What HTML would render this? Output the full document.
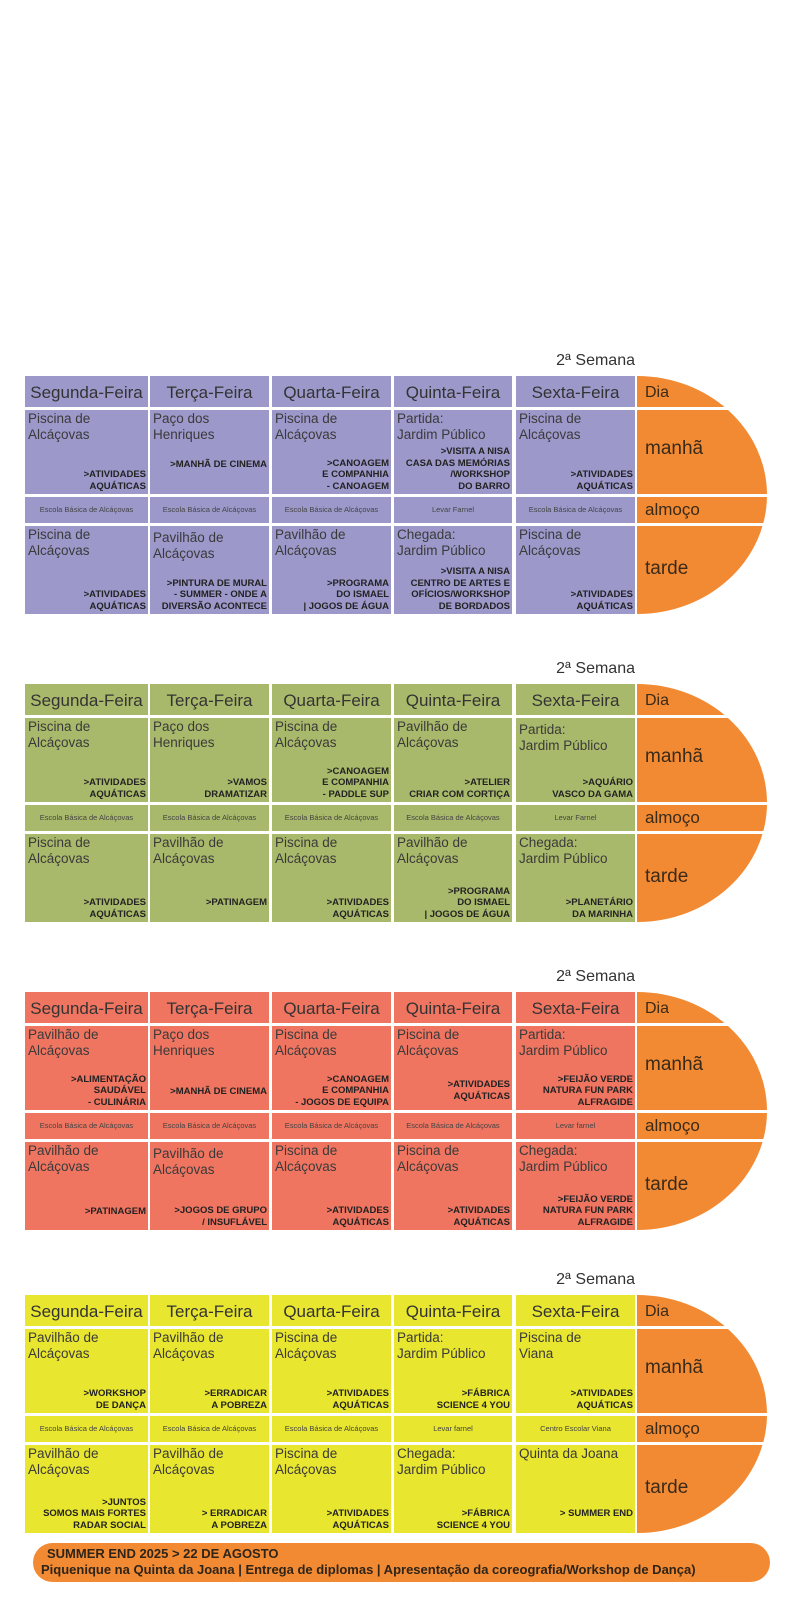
<!DOCTYPE html>
<html><head><meta charset="utf-8">
<style>
*{margin:0;padding:0;box-sizing:border-box}
body{width:795px;height:1600px;background:#fff;position:relative;overflow:hidden;font-family:"Liberation Sans",sans-serif;color:#333}
.b{position:absolute;left:0;width:795px;height:238px}
.c{position:absolute;overflow:hidden}
.h{top:0;height:31px;font-size:17px;text-align:center;line-height:33px;color:#333}
.m{top:34px;height:84px}
.l{top:121px;height:26px;font-size:7.5px;text-align:center;line-height:26px;color:#444}
.t{top:150px;height:88px}
.p{position:absolute;left:3px;top:1px;font-size:13.5px;line-height:16px;color:#3a3a3a}
.a{position:absolute;right:2px;bottom:2px;font-size:9.5px;font-weight:bold;line-height:11.5px;text-align:right;color:#222;letter-spacing:0;white-space:nowrap}
.c0{left:25px;width:123px}.c1{left:150px;width:119px}.c2{left:272px;width:119px}.c3{left:394px;width:118px}.c4{left:516px;width:119px}
.sem{position:absolute;right:160px;top:-24px;font-size:16px;color:#333}
svg.o{position:absolute;left:637px;top:0}
.ol{position:absolute;left:645px;color:#3a2a1a}
.pu .c{background:#9c98ca}.gr .c{background:#a9b96b}.rd .c{background:#ef7561}.ye .c{background:#e8e62e}
.foot{position:absolute;left:33px;top:1543px;width:737px;height:39px;background:#f28a33;border-radius:20px;font-weight:bold;color:#2e2418;font-size:13px;line-height:16px;padding:3px 0 0 12px}
</style></head><body>

<div class="b pu" style="top:376px">
<div class="sem">2ª Semana</div>
<div class="c h c0">Segunda-Feira</div><div class="c h c1">Terça-Feira</div><div class="c h c2">Quarta-Feira</div><div class="c h c3">Quinta-Feira</div><div class="c h c4">Sexta-Feira</div>
<div class="c m c0"><div class="p">Piscina de<br>Alcáçovas</div><div class="a">&gt;ATIVIDADES<br>AQUÁTICAS</div></div>
<div class="c m c1"><div class="p">Paço dos<br>Henriques</div><div class="a" style="bottom:24px">&gt;MANHÃ DE CINEMA</div></div>
<div class="c m c2"><div class="p">Piscina de<br>Alcáçovas</div><div class="a">&gt;CANOAGEM<br>E COMPANHIA<br>- CANOAGEM</div></div>
<div class="c m c3"><div class="p">Partida:<br>Jardim Público</div><div class="a">&gt;VISITA A NISA<br>CASA DAS MEMÓRIAS<br>/WORKSHOP<br>DO BARRO</div></div>
<div class="c m c4"><div class="p">Piscina de<br>Alcáçovas</div><div class="a">&gt;ATIVIDADES<br>AQUÁTICAS</div></div>
<div class="c l c0">Escola Básica de Alcáçovas</div><div class="c l c1">Escola Básica de Alcáçovas</div><div class="c l c2">Escola Básica de Alcáçovas</div><div class="c l c3">Levar Farnel</div><div class="c l c4">Escola Básica de Alcáçovas</div>
<div class="c t c0"><div class="p">Piscina de<br>Alcáçovas</div><div class="a">&gt;ATIVIDADES<br>AQUÁTICAS</div></div>
<div class="c t c1"><div class="p" style="top:4px">Pavilhão de<br>Alcáçovas</div><div class="a">&gt;PINTURA DE MURAL<br>- SUMMER - ONDE A<br>DIVERSÃO ACONTECE</div></div>
<div class="c t c2"><div class="p">Pavilhão de<br>Alcáçovas</div><div class="a">&gt;PROGRAMA<br>DO ISMAEL<br>| JOGOS DE ÁGUA</div></div>
<div class="c t c3"><div class="p">Chegada:<br>Jardim Público</div><div class="a">&gt;VISITA A NISA<br>CENTRO DE ARTES E<br>OFÍCIOS/WORKSHOP<br>DE BORDADOS</div></div>
<div class="c t c4"><div class="p">Piscina de<br>Alcáçovas</div><div class="a">&gt;ATIVIDADES<br>AQUÁTICAS</div></div>
<svg class="o" width="140" height="240"><path d="M0,0 A130,119 0 0 1 0,238 Z" fill="#f28a33"/><rect x="0" y="31" width="140" height="3" fill="#fff"/><rect x="0" y="118" width="140" height="3" fill="#fff"/><rect x="0" y="147" width="140" height="3" fill="#fff"/></svg>
<div class="ol" style="top:8px;font-size:16px">Dia</div><div class="ol" style="top:62px;font-size:19px">manhã</div><div class="ol" style="top:124px;font-size:17px">almoço</div><div class="ol" style="top:182px;font-size:19px">tarde</div>
</div>

<div class="b gr" style="top:684px">
<div class="sem">2ª Semana</div>
<div class="c h c0">Segunda-Feira</div><div class="c h c1">Terça-Feira</div><div class="c h c2">Quarta-Feira</div><div class="c h c3">Quinta-Feira</div><div class="c h c4">Sexta-Feira</div>
<div class="c m c0"><div class="p">Piscina de<br>Alcáçovas</div><div class="a">&gt;ATIVIDADES<br>AQUÁTICAS</div></div>
<div class="c m c1"><div class="p">Paço dos<br>Henriques</div><div class="a">&gt;VAMOS<br>DRAMATIZAR</div></div>
<div class="c m c2"><div class="p">Piscina de<br>Alcáçovas</div><div class="a">&gt;CANOAGEM<br>E COMPANHIA<br>- PADDLE SUP</div></div>
<div class="c m c3"><div class="p">Pavilhão de<br>Alcáçovas</div><div class="a">&gt;ATELIER<br>CRIAR COM CORTIÇA</div></div>
<div class="c m c4"><div class="p" style="top:4px">Partida:<br>Jardim Público</div><div class="a">&gt;AQUÁRIO<br>VASCO DA GAMA</div></div>
<div class="c l c0">Escola Básica de Alcáçovas</div><div class="c l c1">Escola Básica de Alcáçovas</div><div class="c l c2">Escola Básica de Alcáçovas</div><div class="c l c3">Escola Básica de Alcáçovas</div><div class="c l c4">Levar Farnel</div>
<div class="c t c0"><div class="p">Piscina de<br>Alcáçovas</div><div class="a">&gt;ATIVIDADES<br>AQUÁTICAS</div></div>
<div class="c t c1"><div class="p">Pavilhão de<br>Alcáçovas</div><div class="a" style="bottom:14px">&gt;PATINAGEM</div></div>
<div class="c t c2"><div class="p">Piscina de<br>Alcáçovas</div><div class="a">&gt;ATIVIDADES<br>AQUÁTICAS</div></div>
<div class="c t c3"><div class="p">Pavilhão de<br>Alcáçovas</div><div class="a">&gt;PROGRAMA<br>DO ISMAEL<br>| JOGOS DE ÁGUA</div></div>
<div class="c t c4"><div class="p">Chegada:<br>Jardim Público</div><div class="a">&gt;PLANETÁRIO<br>DA MARINHA</div></div>
<svg class="o" width="140" height="240"><path d="M0,0 A130,119 0 0 1 0,238 Z" fill="#f28a33"/><rect x="0" y="31" width="140" height="3" fill="#fff"/><rect x="0" y="118" width="140" height="3" fill="#fff"/><rect x="0" y="147" width="140" height="3" fill="#fff"/></svg>
<div class="ol" style="top:8px;font-size:16px">Dia</div><div class="ol" style="top:62px;font-size:19px">manhã</div><div class="ol" style="top:124px;font-size:17px">almoço</div><div class="ol" style="top:182px;font-size:19px">tarde</div>
</div>

<div class="b rd" style="top:992px">
<div class="sem">2ª Semana</div>
<div class="c h c0">Segunda-Feira</div><div class="c h c1">Terça-Feira</div><div class="c h c2">Quarta-Feira</div><div class="c h c3">Quinta-Feira</div><div class="c h c4">Sexta-Feira</div>
<div class="c m c0"><div class="p">Pavilhão de<br>Alcáçovas</div><div class="a">&gt;ALIMENTAÇÃO<br>SAUDÁVEL<br>- CULINÁRIA</div></div>
<div class="c m c1"><div class="p">Paço dos<br>Henriques</div><div class="a" style="bottom:13px">&gt;MANHÃ DE CINEMA</div></div>
<div class="c m c2"><div class="p">Piscina de<br>Alcáçovas</div><div class="a">&gt;CANOAGEM<br>E COMPANHIA<br>- JOGOS DE EQUIPA</div></div>
<div class="c m c3"><div class="p">Piscina de<br>Alcáçovas</div><div class="a" style="bottom:8px">&gt;ATIVIDADES<br>AQUÁTICAS</div></div>
<div class="c m c4"><div class="p">Partida:<br>Jardim Público</div><div class="a">&gt;FEIJÃO VERDE<br>NATURA FUN PARK<br>ALFRAGIDE</div></div>
<div class="c l c0">Escola Básica de Alcáçovas</div><div class="c l c1">Escola Básica de Alcáçovas</div><div class="c l c2">Escola Básica de Alcáçovas</div><div class="c l c3">Escola Básica de Alcáçovas</div><div class="c l c4">Levar farnel</div>
<div class="c t c0"><div class="p">Pavilhão de<br>Alcáçovas</div><div class="a" style="bottom:13px">&gt;PATINAGEM</div></div>
<div class="c t c1"><div class="p" style="top:4px">Pavilhão de<br>Alcáçovas</div><div class="a">&gt;JOGOS DE GRUPO<br>/ INSUFLÁVEL</div></div>
<div class="c t c2"><div class="p">Piscina de<br>Alcáçovas</div><div class="a">&gt;ATIVIDADES<br>AQUÁTICAS</div></div>
<div class="c t c3"><div class="p">Piscina de<br>Alcáçovas</div><div class="a">&gt;ATIVIDADES<br>AQUÁTICAS</div></div>
<div class="c t c4"><div class="p">Chegada:<br>Jardim Público</div><div class="a">&gt;FEIJÃO VERDE<br>NATURA FUN PARK<br>ALFRAGIDE</div></div>
<svg class="o" width="140" height="240"><path d="M0,0 A130,119 0 0 1 0,238 Z" fill="#f28a33"/><rect x="0" y="31" width="140" height="3" fill="#fff"/><rect x="0" y="118" width="140" height="3" fill="#fff"/><rect x="0" y="147" width="140" height="3" fill="#fff"/></svg>
<div class="ol" style="top:8px;font-size:16px">Dia</div><div class="ol" style="top:62px;font-size:19px">manhã</div><div class="ol" style="top:124px;font-size:17px">almoço</div><div class="ol" style="top:182px;font-size:19px">tarde</div>
</div>

<div class="b ye" style="top:1295px">
<div class="sem">2ª Semana</div>
<div class="c h c0">Segunda-Feira</div><div class="c h c1">Terça-Feira</div><div class="c h c2">Quarta-Feira</div><div class="c h c3">Quinta-Feira</div><div class="c h c4">Sexta-Feira</div>
<div class="c m c0"><div class="p">Pavilhão de<br>Alcáçovas</div><div class="a">&gt;WORKSHOP<br>DE DANÇA</div></div>
<div class="c m c1"><div class="p">Pavilhão de<br>Alcáçovas</div><div class="a">&gt;ERRADICAR<br>A POBREZA</div></div>
<div class="c m c2"><div class="p">Piscina de<br>Alcáçovas</div><div class="a">&gt;ATIVIDADES<br>AQUÁTICAS</div></div>
<div class="c m c3"><div class="p">Partida:<br>Jardim Público</div><div class="a">&gt;FÁBRICA<br>SCIENCE 4 YOU</div></div>
<div class="c m c4"><div class="p">Piscina de<br>Viana</div><div class="a">&gt;ATIVIDADES<br>AQUÁTICAS</div></div>
<div class="c l c0">Escola Básica de Alcáçovas</div><div class="c l c1">Escola Básica de Alcáçovas</div><div class="c l c2">Escola Básica de Alcáçovas</div><div class="c l c3">Levar farnel</div><div class="c l c4">Centro Escolar Viana</div>
<div class="c t c0"><div class="p">Pavilhão de<br>Alcáçovas</div><div class="a">&gt;JUNTOS<br>SOMOS MAIS FORTES<br>RADAR SOCIAL</div></div>
<div class="c t c1"><div class="p">Pavilhão de<br>Alcáçovas</div><div class="a">&gt; ERRADICAR<br>A POBREZA</div></div>
<div class="c t c2"><div class="p">Piscina de<br>Alcáçovas</div><div class="a">&gt;ATIVIDADES<br>AQUÁTICAS</div></div>
<div class="c t c3"><div class="p">Chegada:<br>Jardim Público</div><div class="a">&gt;FÁBRICA<br>SCIENCE 4 YOU</div></div>
<div class="c t c4"><div class="p">Quinta da Joana</div><div class="a" style="bottom:14px">&gt; SUMMER END</div></div>
<svg class="o" width="140" height="240"><path d="M0,0 A130,119 0 0 1 0,238 Z" fill="#f28a33"/><rect x="0" y="31" width="140" height="3" fill="#fff"/><rect x="0" y="118" width="140" height="3" fill="#fff"/><rect x="0" y="147" width="140" height="3" fill="#fff"/></svg>
<div class="ol" style="top:8px;font-size:16px">Dia</div><div class="ol" style="top:62px;font-size:19px">manhã</div><div class="ol" style="top:124px;font-size:17px">almoço</div><div class="ol" style="top:182px;font-size:19px">tarde</div>
</div>

<div class="foot"><span style="padding-left:2px">SUMMER END 2025 &gt; 22 DE AGOSTO</span><br><span style="margin-left:-4px">Piquenique na Quinta da Joana | Entrega de diplomas | Apresentação da coreografia/Workshop de Dança)</span></div>
</body></html>
